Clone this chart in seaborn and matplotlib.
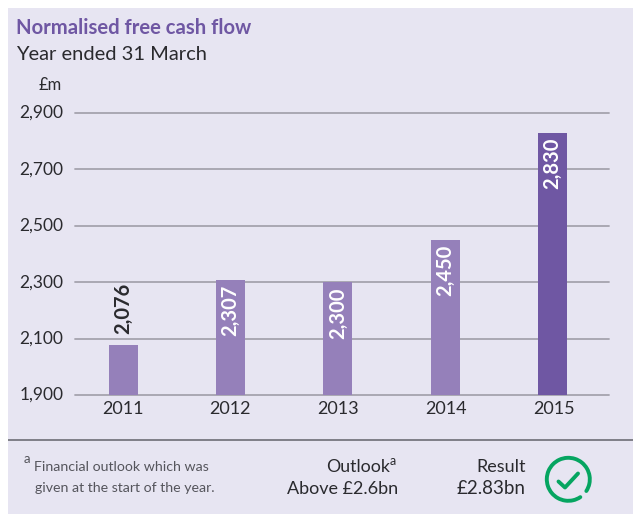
import matplotlib
matplotlib.use("Agg")
import matplotlib.pyplot as plt
from matplotlib.patches import Arc, Rectangle
from matplotlib.transforms import ScaledTranslation
import pandas as pd
import seaborn as sns

years = ["2011", "2012", "2013", "2014", "2015"]
cash_flow = [2076, 2307, 2300, 2450, 2830]
value_labels = ["2,076", "2,307", "2,300", "2,450", "2,830"]
y_ticks = [1900, 2100, 2300, 2500, 2700, 2900]
y_tick_labels = ["1,900", "2,100", "2,300", "2,500", "2,700", "2,900"]
bar_colours = ["#9580BA", "#9580BA", "#9580BA", "#9580BA", "#6F57A3"]

PANEL = "#E7E5F2"
PURPLE = "#6F57A3"
INK = "#2A2A2E"
GREEN = "#06A561"
W, H = 633, 514

sns.set_theme(style="white")
plt.rcParams["font.family"] = ["Lato", "DejaVu Sans"]

fig = plt.figure(figsize=(W / 100, H / 100), dpi=100, facecolor="white")

# Page-level layer in pixel units for the panel and footer
page = fig.add_axes([0, 0, 1, 1], zorder=0)
page.set_xlim(0, W)
page.set_ylim(H, 0)
page.axis("off")
page.add_patch(Rectangle((8, 8), W - 8, H - 8, facecolor=PANEL, edgecolor="none"))
page.plot([8, W], [439.5, 439.5], color="#77777F", lw=1.3, solid_capstyle="butt")

page.text(16, 28, "Normalised free cash flow", color=PURPLE, fontsize=14.6,
          fontweight="bold", va="center", ha="left")
page.text(16, 54, "Year ended 31 March", color=INK, fontsize=14.5, va="center", ha="left")
page.text(62, 85, "£m", color=INK, fontsize=12, va="center", ha="right")

# Footer
grey = "#55555C"
page.text(24, 459, "a", color=grey, fontsize=9.5, va="center", ha="left")
page.text(34, 467, "Financial outlook which was", color=grey, fontsize=10.2, va="center", ha="left")
page.text(35, 488, "given at the start of the year.", color=grey, fontsize=10.2, va="center", ha="left")
page.text(390, 467, "Outlook", color=INK, fontsize=12.8, va="center", ha="right")
page.text(390, 461, "a", color=INK, fontsize=9, va="center", ha="left")
page.text(398, 489, "Above £2.6bn", color=INK, fontsize=13, va="center", ha="right")
page.text(526, 467, "Result", color=INK, fontsize=13, va="center", ha="right")
page.text(526, 489, "£2.83bn", color=INK, fontsize=13.5, va="center", ha="right")

# Tick badge: an open ring with a check mark
page.add_patch(Arc((568.3, 479.3), 43, 43, theta1=56, theta2=393,
                   color=GREEN, lw=2.8, capstyle="round"))
page.plot([558.5, 565, 578], [481.5, 487.5, 473.5], color=GREEN, lw=2.8,
          solid_capstyle="round", solid_joinstyle="round")

# Bar chart
ax = fig.add_axes([75 / W, 1 - 395 / H, (609 - 75) / W, (395 - 113) / H],
                  facecolor="none", zorder=1)
df = pd.DataFrame({"year": years, "value": cash_flow})
sns.barplot(data=df, x="year", y="value", hue="year", palette=bar_colours,
            width=0.27, legend=False, saturation=1, ax=ax, zorder=3, linewidth=0)
ax.set_xlim(-0.452, 4.529)
ax.set_ylim(y_ticks[0], y_ticks[-1])
ax.set_yticks(y_ticks, y_tick_labels)
ax.set_xlabel("")
ax.set_ylabel("")
for y in y_ticks:
    ax.axhline(y, color="#A5A3AE", lw=1.3, zorder=1, clip_on=False)
for side in ax.spines:
    ax.spines[side].set_visible(False)
ax.tick_params(axis="x", length=0, labelsize=13, labelcolor=INK, pad=4)
ax.tick_params(axis="y", length=0, labelsize=12.5, labelcolor=INK, pad=8.5)

# Year labels run a touch wider than the bars; value labels sit just above their rules
for i, label in enumerate(ax.get_xticklabels()):
    label.set_transform(label.get_transform()
                        + ScaledTranslation((-1 + 0.75 * i) / 100, 0, fig.dpi_scale_trans))
for label in ax.get_yticklabels():
    label.set_transform(label.get_transform()
                        + ScaledTranslation(0, 1.5 / 100, fig.dpi_scale_trans))

# Rotated value labels: inside the bar, except where the bar is too short
for i, (v, label) in enumerate(zip(cash_flow, value_labels)):
    if v < 2200:
        ax.annotate(label, (i, v), xytext=(0, 8), textcoords="offset points",
                    rotation=90, ha="center", va="bottom", color=INK,
                    fontsize=14.5, fontweight="bold", zorder=4)
    else:
        ax.annotate(label, (i, v), xytext=(0, -3.6), textcoords="offset points",
                    rotation=90, ha="center", va="top", color="white",
                    fontsize=14.5, fontweight="bold", zorder=4)

fig.savefig("out.png", dpi=100, facecolor="white")
